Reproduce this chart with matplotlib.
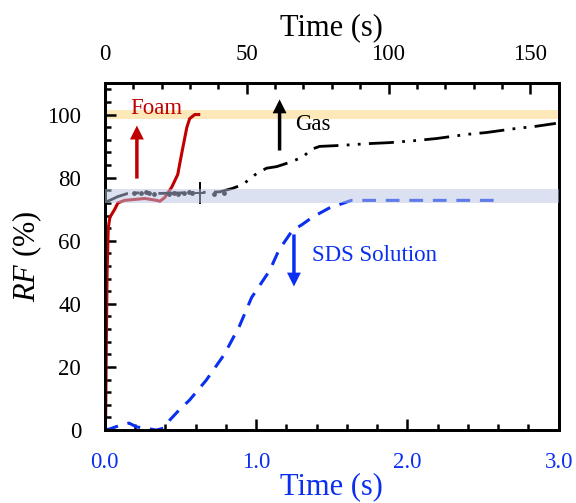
import matplotlib.pyplot as plt
from matplotlib.ticker import MultipleLocator, FixedLocator

plt.rcParams['font.family'] = ['Liberation Serif', 'DejaVu Serif']
plt.rcParams['mathtext.fontset'] = 'custom'
plt.rcParams['mathtext.rm'] = 'Liberation Serif'
plt.rcParams['mathtext.it'] = 'Liberation Serif:italic'

# Foam (top time axis, s)
foam_t = [0, 0.3, 0.5, 0.8, 1.2, 1.8, 2.5, 3.5, 4.6, 7.0, 14.1, 18.3, 19.4,
          21.1, 23.6, 25.7, 27.1, 28.9, 29.9, 31.7, 33.1]
foam_rf = [0, 5, 25, 50, 64, 67.5, 68.5, 70, 72, 72.8, 73.4, 72.8, 72.5,
           73.7, 77, 81, 87.7, 95.9, 98.7, 100, 100]

# Gas (top time axis, s)
gas_t = [0, 1, 4.6, 8.1, 14, 19.4, 28, 33.5, 40.5, 45, 48.6, 53.5, 57, 60.6,
         65, 69.7, 72.9, 75.7, 82.7, 93.3, 100.4, 110.2, 116.9, 127.5, 134.5,
         145, 151.4, 159]
gas_rf = [72, 72.5, 74, 75, 75.3, 75, 75.2, 75.3, 75.5, 76.6, 77.8, 81.3, 83,
          83.5, 84.8, 86.5, 89, 89.9, 90.2, 90.8, 91.1, 91.8, 92.4, 93.7, 94.3,
          95.6, 96.2, 97.2]
gas_scatter_t = [10.2, 12.7, 14.4, 15.5, 17.3, 22.5, 24.3, 25.7, 27.8, 29.6,
                 30.9, 38.4, 41.9]
gas_scatter_rf = [75.0, 75.0, 75.3, 75.0, 74.7, 74.7, 75.0, 74.7, 75.0, 75.3,
                  75.0, 74.7, 75.0]

# SDS solution (bottom time axis, s)
sds_t = [0, 0.03, 0.1, 0.16, 0.21, 0.28, 0.34, 0.39, 0.43, 0.49, 0.56, 0.67,
         0.79, 0.89, 0.97, 1.09, 1.15, 1.24, 1.30, 1.37, 1.48, 1.57, 1.63,
         1.94, 2.27, 2.61]
sds_rf = [0, 0.3, 1.5, 2.2, 1.0, 0.5, 0, 0.6, 3.2, 6.3, 9.5, 15.8, 24, 33,
          42, 50.6, 57, 63.3, 65, 67.4, 70.3, 71.8, 72.8, 72.8, 72.8, 72.8]

fig = plt.figure(figsize=(5.76, 5.03), dpi=100)
ax = fig.add_axes([0.182, 0.145, 0.788, 0.69])
ax2 = ax.twiny()

red = '#c00000'
blue = '#0a2ff0'

ax.axhspan(98.5, 101.5, color='#fbd98a', alpha=0.6, lw=0, zorder=0)

ax.plot(sds_t, sds_rf, color=blue, lw=2.2, dashes=(4.5, 3.2), zorder=2)
ax2.plot(foam_t, foam_rf, color=red, lw=2.2, zorder=2)
ax2.plot(gas_t, gas_rf, color='black', lw=2,
         dashes=(9, 3, 1, 3, 1, 3), zorder=2)
ax2.scatter(gas_scatter_t, gas_scatter_rf, s=6, color='black', zorder=2)
ax2.errorbar([33.5], [75], xerr=[1.6], yerr=[3.5], color='black', lw=1.4,
             capsize=0, zorder=2)

# plateau band drawn over the curves
ax2.axhspan(72, 76.5, color='#b9c5e5', alpha=0.5, lw=0, zorder=3)

# arrows and labels
ax2.annotate('', xy=(11.3, 96.5), xytext=(11.3, 79.7),
             arrowprops=dict(color=red, width=2.5, headwidth=10, headlength=10, lw=0))
ax2.annotate('', xy=(61.6, 104.8), xytext=(61.6, 88.6),
             arrowprops=dict(color='black', width=2.5, headwidth=10, headlength=10, lw=0))
ax.annotate('', xy=(1.25, 45.5), xytext=(1.25, 62),
            arrowprops=dict(color=blue, width=2.5, headwidth=10, headlength=10, lw=0))
ax2.text(9.0, 101.8, 'Foam', color=red, fontsize=16.5, va='center')
ax2.text(67.0, 96.8, 'Gas', color='black', fontsize=16.5, va='center')
ax.text(1.37, 55.4, 'SDS Solution', color=blue, fontsize=16.5, va='center')

ax.set_xlim(0, 3)
ax.set_ylim(0, 110)
ax2.set_xlim(0, 160)

ax.xaxis.set_major_locator(FixedLocator([0, 1, 2, 3]))
ax.set_xticklabels(['0.0', '1.0', '2.0', '3.0'])
ax.xaxis.set_minor_locator(MultipleLocator(0.2))
ax.yaxis.set_major_locator(MultipleLocator(20))
ax.yaxis.set_minor_locator(MultipleLocator(4))
ax2.xaxis.set_major_locator(MultipleLocator(50))
ax2.xaxis.set_minor_locator(MultipleLocator(10))

ax.tick_params(axis='x', which='both', direction='in', colors='black',
               labelcolor=blue, labelsize=16.5, width=1.8, top=False, pad=16)
ax.tick_params(axis='x', which='major', length=8)
ax.tick_params(axis='x', which='minor', length=4)
ax.tick_params(axis='y', which='both', direction='in', labelsize=16.5,
               width=1.8, right=False, pad=17)
ax.tick_params(axis='y', which='major', length=8)
ax.tick_params(axis='y', which='minor', length=4)
ax2.tick_params(axis='x', which='both', direction='in', labelsize=16.5,
                width=1.8, bottom=False, pad=13)
ax2.tick_params(axis='x', which='major', length=8)
ax2.tick_params(axis='x', which='minor', length=4)

for a in (ax, ax2):
    for s in a.spines.values():
        s.set_linewidth(2)

ax.set_xlabel('Time (s)', color=blue, fontsize=22, labelpad=-1)
ax2.set_xlabel('Time (s)', color='black', fontsize=22, labelpad=6)
ax.set_ylabel('$\\it{RF}$ (%)', fontsize=22, labelpad=2)

fig.savefig('out.png', dpi=100)
